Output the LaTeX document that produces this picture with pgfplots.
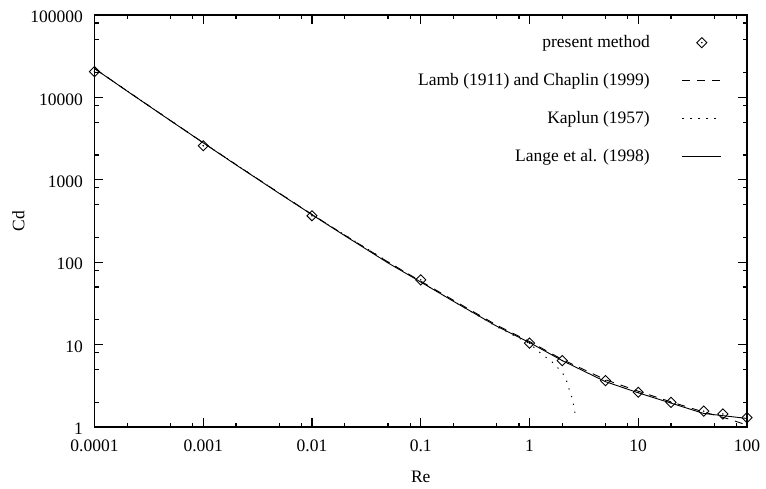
\documentclass[border=0pt]{standalone}
\usepackage{fontspec}
\setmainfont{Liberation Serif}
\usepackage{pgfplots}
\pgfplotsset{compat=1.18}
% legend samples: a 39pt line, and a diamond with its centre dot
\pgfplotsset{
  seg sample/.style={legend image code/.code={\draw[##1] (0pt,0pt) -- (39pt,0pt);}},
  dia sample/.style={legend image code/.code={\draw[##1] plot coordinates {(19.5pt,0pt)};
    \fill (19.5pt,0pt) circle (0.5pt);}},
}

% drag coefficient of a circular cylinder at low Reynolds number
\begin{document}
\fontsize{17.5}{21}\selectfont
\begin{tikzpicture}
\begin{axis}[
  scale only axis,
  width=652.5pt, height=412pt,
  xmode=log, ymode=log,
  xmin=1e-4, xmax=100, ymin=1, ymax=100000,
  xtick={1e-4,1e-3,1e-2,1e-1,1,10,100},
  xticklabels={0.0001,0.001,0.01,0.1,1,10,100},
  ytick={1,10,100,1000,10000,100000},
  yticklabels={1,10,100,1000,10000,100000},
  minor xtick={2e-4,5e-4,8e-4,2e-3,5e-3,8e-3,2e-2,5e-2,8e-2,0.2,0.5,0.8,2,5,8,20,50,80},
  minor ytick={2,5,8,20,50,80,200,500,800,2000,5000,8000,20000,50000,80000},
  major tick length=9pt, minor tick length=4.5pt,
  tick align=inside,
  axis line style={line width=1.3pt},
  every tick/.style={line width=1.1pt, black},
  xticklabel style={anchor=base, yshift=-24.5pt},
  yticklabel style={inner sep=0pt, xshift=-11.5pt, yshift=-2pt},
  xlabel={Re}, ylabel={Cd},
  xlabel style={at={(axis description cs:0.5,-0.1335)}, anchor=base},
  ylabel style={at={(axis description cs:-0.1165,0.5)}, anchor=center},
  legend plot pos=right,
  legend cell align=right,
  legend style={draw=none, fill=none, inner sep=0pt,
    at={(axis description cs:0.9617,0.956)}, anchor=north east,
    row sep=19.2pt, column sep=30pt},
  seg sample,
]

\addplot[only marks, mark=square, mark size=3.6pt,
  mark options={rotate=45, line width=0.9pt, fill=white}, dia sample]
  table {
Re Cd
1e-4 20500
1e-3 2590
1e-2 366
0.1 61
1 10.4
2 6.4
5 3.65
10 2.64
20 1.99
40 1.56
60 1.44
100 1.30
};
\addlegendentry{present method}

% centre dots of the diamonds
\addplot[only marks, mark=*, mark size=0.5pt, forget plot]
  table {
Re Cd
1e-4 20500
1e-3 2590
1e-2 366
0.1 61
1 10.4
2 6.4
5 3.65
10 2.64
20 1.99
40 1.56
60 1.44
100 1.30
};

\addplot[black, line width=0.9pt, dash pattern=on 8pt off 7pt]
  table {
Re Cd
1e-4 22420
2e-4 11945
5e-4 5234
1e-3 2821
2e-3 1529
5e-3 689
0.01 380
0.02 213
0.05 100.5
0.1 58.8
0.2 34.5
0.5 17.2
1 10.9
2 6.6
5 3.75
10 2.72
13.6 2.38
20 2.02
26.4 1.80
40 1.52
68 1.25
91 1.10
100 1.06
};
\addlegendentry{Lamb (1911) and Chaplin (1999)}

\addplot[black, line width=1pt, dash pattern=on 1.2pt off 6.8pt]
  table {
Re Cd
1e-4 22400
1e-3 2810
0.01 377
0.1 57.5
0.5 16.5
1 10.3
1.25 8.0
1.44 6.9
1.65 6.0
1.84 5.15
2.04 4.4
2.19 3.65
2.3 2.95
2.43 2.38
2.52 1.94
2.6 1.58
2.66 1.28
};
\addlegendentry{Kaplun (1957)}

\addplot[black, line width=0.9pt]
  table {
Re Cd
1e-4 22400
2e-4 11900
5e-4 5220
1e-3 2810
2e-3 1520
5e-3 684
0.01 377
0.02 210
0.05 98
0.1 57.5
0.2 33.5
0.5 16.7
1 10.6
2 6.4
5 3.55
10 2.6
20 1.95
40 1.46
100 1.27
};
\addlegendentry{Lange et al. (1998)}

\end{axis}
\path (current axis.south west) ++(-94.5pt,-59pt) rectangle ++(766pt,486pt);
\end{tikzpicture}
\end{document}
